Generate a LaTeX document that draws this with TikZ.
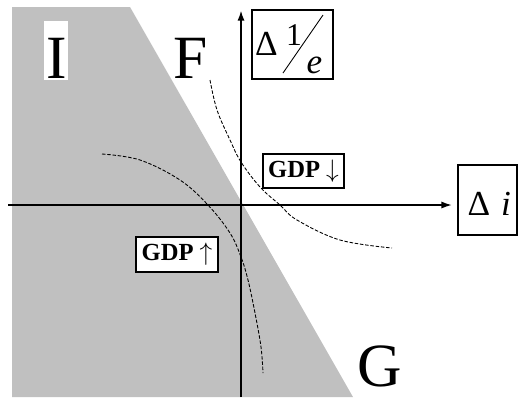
\documentclass[tikz,border=0pt]{standalone}
\usepackage{fontspec}
\setmainfont{Liberation Serif}
\usetikzlibrary{arrows.meta}

\definecolor{regiongray}{RGB}{192,192,192}

\tikzset{
    axisline/.style={line width=0.9pt, -{Latex[length=6pt, width=4pt]}},
    guide/.style={line width=0.5pt, dash pattern=on 2pt off 1pt},
    labelbox/.style={draw, line width=0.6pt, fill=white, inner sep=0pt},
    bigletter/.style={anchor=base, inner sep=0pt, font=\fontsize{35}{35}\selectfont},
}

\begin{document}
\begin{tikzpicture}[x=0.02cm, y=-0.02cm]

    \useasboundingbox (0,0) rectangle (519,397);

    % Shaded region
    \fill[regiongray] (12,7) -- (130,7) -- (353,397) -- (12,397) -- cycle;

    % Axes
    \coordinate (ybot) at (241,397);
    \coordinate (ytip) at (241,10);
    \coordinate (xleft) at (8,205);
    \coordinate (xtip) at (452,205);
    \draw[axisline, line width=1.3pt] (ybot) -- (ytip);
    \draw[axisline] (xleft) -- (xtip);

    % Curves
    \draw[guide] plot[smooth, tension=0.6] coordinates {
        (210,80) (217,110) (230,140) (241,162) (260,187)
        (280,205) (297,220) (340,240) (392,248)};
    \draw[guide] plot[smooth, tension=0.6] coordinates {
        (102,154) (140,160) (180,180) (208,205) (230,233)
        (241,257) (248,280) (255,313) (261,347) (263,373)};

    % Axis labels
    \node[labelbox, minimum width=1.62cm, minimum height=1.38cm] (ylabel) at (292.5,44.5) {};
    \node[anchor=base, inner sep=0pt, font=\fontsize{20}{20}\selectfont] (ydelta) at (266.5,55) {Δ};
    \node[anchor=base, inner sep=0pt, font=\fontsize{18}{18}\selectfont] (yone) at (294,45) {1};
    \node[anchor=base, inner sep=0pt, font=\fontsize{20}{20}\selectfont\itshape] (ye) at (314.5,73) {e};
    \draw[line width=0.5pt] (283,73) -- (323,15);

    \node[labelbox, minimum width=1.18cm, minimum height=1.40cm] (xlabel) at (487.5,200) {};
    \node[anchor=base, inner sep=0pt, font=\fontsize{20}{20}\selectfont] (xdelta) at (479,215) {Δ};
    \node[anchor=base, inner sep=0pt, font=\fontsize{20}{20}\selectfont\itshape] (xi) at (506,215) {i};

    % GDP boxes
    \node[labelbox, minimum width=1.62cm, minimum height=0.68cm,
        font=\fontsize{14}{14}\selectfont\bfseries] (gdpdown) at (303.5,171) {GDP $\downarrow$};
    \node[labelbox, minimum width=1.64cm, minimum height=0.70cm,
        font=\fontsize{14}{14}\selectfont\bfseries] (gdpup) at (177,254.5) {GDP $\uparrow$};

    % Region letters
    \fill[white] (44,21) rectangle (68,80);
    \node[bigletter] (lblI) at (57,78) {I};
    \node[bigletter] (lblF) at (191,78) {F};
    \node[bigletter] (lblG) at (380,386) {G};

\end{tikzpicture}
\end{document}
